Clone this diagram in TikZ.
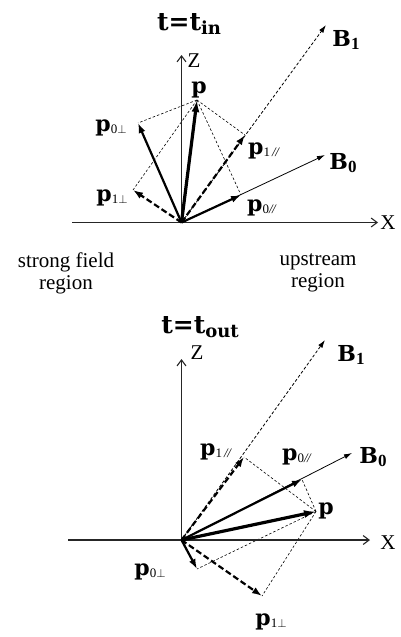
\documentclass[tikz,border=0pt]{standalone}
\usepackage{fontspec}
\setmainfont{Liberation Serif}
\newfontfamily\lblfont{DejaVu Serif}
\usetikzlibrary{arrows.meta}
\newcommand{\lsub}[1]{\raisebox{-0.2ex}{\fontsize{13}{13}\selectfont\rmfamily\mdseries #1}}
\newcommand{\bsub}[1]{\raisebox{-0.3ex}{\fontsize{17}{17}\selectfont\rmfamily #1}}
\newcommand{\tsub}[1]{\raisebox{-0.35ex}{\fontsize{18}{18}\selectfont #1}}
\newcommand{\para}{\textit{/\kern-0.5pt/}}
\tikzset{
  axis/.style={-{Straight Barb[length=6pt,width=9pt]}, line width=1.1pt, draw=black!85},
  vec/.style={-{Latex[length=10pt,width=7pt]}, line width=2.2pt},
  bigvec/.style={-{Latex[length=12pt,width=8pt]}, line width=3.2pt},
  dvec/.style={vec, dash pattern=on 6pt off 3pt},
  field/.style={-{Latex[length=8pt,width=5pt]}, line width=0.8pt},
  dfield/.style={field, dash pattern=on 3pt off 2pt},
  guide/.style={line width=0.6pt, dash pattern=on 2.5pt off 2pt},
  lbl/.style={font=\fontsize{22}{22}\selectfont\lblfont\bfseries, inner sep=0pt},
  ttl/.style={font=\fontsize{25}{25}\selectfont\lblfont\bfseries, inner sep=0pt},
  axlbl/.style={font=\fontsize{21}{21}\selectfont, inner sep=0pt},
  note/.style={font=\fontsize{21}{22}\selectfont, align=center, inner sep=0pt},
}

\begin{document}
\begin{tikzpicture}[x=1pt, y=-1pt]
  \useasboundingbox (0,0) rectangle (401,637);
  % ---- t = t_in ----
  \coordinate (o1) at (181.5,222.5);
  \coordinate (xa1) at (72,222.5);
  \coordinate (xb1) at (378,222.5);
  \coordinate (za1) at (181.5,55);
  \coordinate (b1in) at (326,25);
  \coordinate (b0in) at (325,155);
  \coordinate (pin) at (197,100);
  \coordinate (p0pin) at (138,123);
  \coordinate (p0lin) at (241,195);
  \coordinate (p1lin) at (245,135);
  \coordinate (p1pin) at (133,190);
  % guides
  \foreach \c in {p0pin, p0lin, p1lin, p1pin}
    \draw[guide] (pin) -- (\c);
  % fields and axes
  \draw[dfield] (o1) -- (b1in);
  \draw[field] (o1) -- (b0in);
  \draw[axis] (xa1) -- (xb1);
  \draw[axis] (o1) -- (za1);
  % vectors
  \draw[vec] (o1) -- (p0pin);
  \draw[vec] (o1) -- (p0lin);
  \draw[dvec] (o1) -- (p1lin);
  \draw[dvec] (o1) -- (p1pin);
  \draw[bigvec] (o1) -- (pin);
  % labels
  \node[ttl] (tin) at (189,24) {t=t\tsub{in}};
  \node[axlbl] (zin) at (194,61) {Z};
  \node[axlbl] (xin) at (388,223) {X};
  \node[lbl] (b1lin) at (346,40) {B\bsub{1}};
  \node[lbl] (b0lin) at (343,163) {B\bsub{0}};
  \node[lbl] (plin) at (199,90) {p};
  \node[lbl] (p0plin) at (111,128) {p\lsub{0$\perp$}};
  \node[lbl] (p1plin) at (112,198) {p\lsub{1$\perp$}};
  \node[lbl] (p0llin) at (262,208) {p\lsub{0\para}};
  \node[lbl] (p1llin) at (264,151) {p\lsub{1\,\para}};
  % regions
  \node[note] (strong) at (66,273) {strong field\\region};
  \node[note] (up) at (318,273) {upstream\\region};
  % ---- t = t_out ----
  \coordinate (o2) at (181.5,540);
  \coordinate (xa2) at (68,540);
  \coordinate (xb2) at (370,540);
  \coordinate (za2) at (181.5,359);
  \coordinate (b1out) at (325,340);
  \coordinate (b0out) at (352,453);
  \coordinate (pout) at (316,511.5);
  \coordinate (p0lout) at (302,479.5);
  \coordinate (p1lout) at (244,457);
  \coordinate (p0pout) at (197,569);
  \coordinate (p1pout) at (262,596);
  % guides
  \foreach \c in {p0lout, p1lout, p0pout, p1pout}
    \draw[guide] (pout) -- (\c);
  % fields and axes
  \draw[dfield] (o2) -- (b1out);
  \draw[field] (o2) -- (b0out);
  \draw[axis] (xa2) -- (xb2);
  \draw[axis] (o2) -- (za2);
  % vectors
  \draw[vec] (o2) -- (p0lout);
  \draw[vec] (o2) -- (p0pout);
  \draw[dvec] (o2) -- (p1lout);
  \draw[dvec] (o2) -- (p1pout);
  \draw[bigvec] (o2) -- (pout);
  % labels
  \node[ttl] (tout) at (200,327) {t=t\tsub{out}};
  \node[axlbl] (zout) at (197,353) {Z};
  \node[axlbl] (xout) at (388,543) {X};
  \node[lbl] (b1lout) at (351,355) {B\bsub{1}};
  \node[lbl] (b0lout) at (373,457) {B\bsub{0}};
  \node[lbl] (plout) at (326,511) {p};
  \node[lbl] (p0llout) at (297,457) {p\lsub{0\para}};
  \node[lbl] (p1llout) at (216,452) {p\lsub{1\,\para}};
  \node[lbl] (p0plout) at (150,572) {p\lsub{0$\perp$}};
  \node[lbl] (p1plout) at (271,622) {p\lsub{1$\perp$}};
\end{tikzpicture}
\end{document}
